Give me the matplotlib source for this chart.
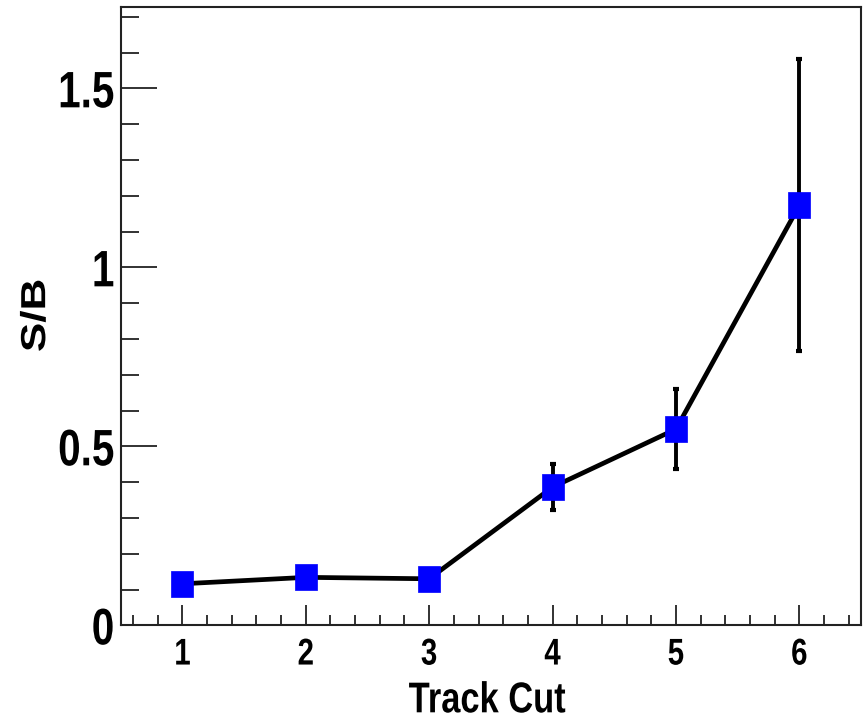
import matplotlib
matplotlib.use('Agg')
import matplotlib.pyplot as plt
from matplotlib.path import Path
from matplotlib.transforms import Affine2D
from matplotlib.patheffects import AbstractPathEffect
from matplotlib.ticker import MultipleLocator, FuncFormatter

# S/B ratio vs track cut
track_cut = [1, 2, 3, 4, 5, 6]
sb = [0.116, 0.134, 0.130, 0.386, 0.548, 1.173]
sb_err = [0.02, 0.02, 0.02, 0.064, 0.112, 0.408]


class Squeeze(AbstractPathEffect):
    """Narrow the glyphs horizontally (Helvetica-narrow look)."""
    def __init__(self, sx=0.79, anchor='center'):
        super().__init__()
        self.sx = sx
        self.anchor = anchor

    def draw_path(self, renderer, gc, tpath, affine, rgbFace=None):
        ext = tpath.get_extents(affine)
        if self.anchor == 'right':
            cx = ext.x1
        else:
            cx = 0.5 * (ext.x0 + ext.x1)
        tr = affine + Affine2D().translate(-cx, 0).scale(self.sx, 1).translate(cx, 0)
        renderer.draw_path(gc, tpath, tr, rgbFace)


plt.rcParams['font.family'] = ['Liberation Sans', 'DejaVu Sans']
plt.rcParams['font.weight'] = 'bold'

fig = plt.figure(figsize=(8.67, 7.21), dpi=100)
ax = fig.add_axes([0.1392, 0.1327, 0.8539, 0.8580])

# slightly tall box marker
box = Path([(-0.42, -0.5), (0.42, -0.5), (0.42, 0.5), (-0.42, 0.5), (-0.42, -0.5)],
           [Path.MOVETO, Path.LINETO, Path.LINETO, Path.LINETO, Path.CLOSEPOLY])

ax.errorbar(track_cut, sb, yerr=sb_err, fmt='none', ecolor='black',
            elinewidth=2.8, capsize=2.2, capthick=3, zorder=2)
ax.plot(track_cut, sb, color='black', lw=3.4, zorder=3)
ax.plot(track_cut, sb, ls='none', marker=box, ms=18.5, mfc='#0000ff',
        mec='#0000ff', mew=0.5, zorder=4)

ax.set_xlim(0.5, 6.5)
ax.set_ylim(0, 1.728)

ax.xaxis.set_major_locator(MultipleLocator(1))
ax.xaxis.set_minor_locator(MultipleLocator(0.2))
ax.yaxis.set_major_locator(MultipleLocator(0.5))
ax.yaxis.set_minor_locator(MultipleLocator(0.1))
ax.yaxis.set_major_formatter(FuncFormatter(lambda v, p: '%g' % v))

ax.tick_params(axis='both', which='both', direction='in', top=False, right=False,
               width=1.3, color='#222222')
ax.tick_params(axis='x', which='major', length=14.4, pad=8.8, labelsize=26.8)
ax.tick_params(axis='x', which='minor', length=7.2)
ax.tick_params(axis='y', which='major', length=26, pad=4.3, labelsize=36.9)
ax.tick_params(axis='y', which='minor', length=13)

for s in ax.spines.values():
    s.set_linewidth(1.5)
    s.set_color('#222222')

ax.set_xlabel('Track Cut', fontsize=31, fontweight='bold',
              path_effects=[Squeeze(sx=0.8)])
ax.set_ylabel('S/B', fontsize=31.7, fontweight='bold',
              path_effects=[Squeeze()])
ax.xaxis.set_label_coords(0.4948, -0.0905)
ax.yaxis.set_label_coords(-0.0855, 0.501)

fig.canvas.draw()
for lbl in ax.get_xticklabels():
    lbl.set_path_effects([Squeeze()])
for lbl in ax.get_yticklabels():
    lbl.set_path_effects([Squeeze(anchor='right')])

fig.savefig('out.png', dpi=100)
